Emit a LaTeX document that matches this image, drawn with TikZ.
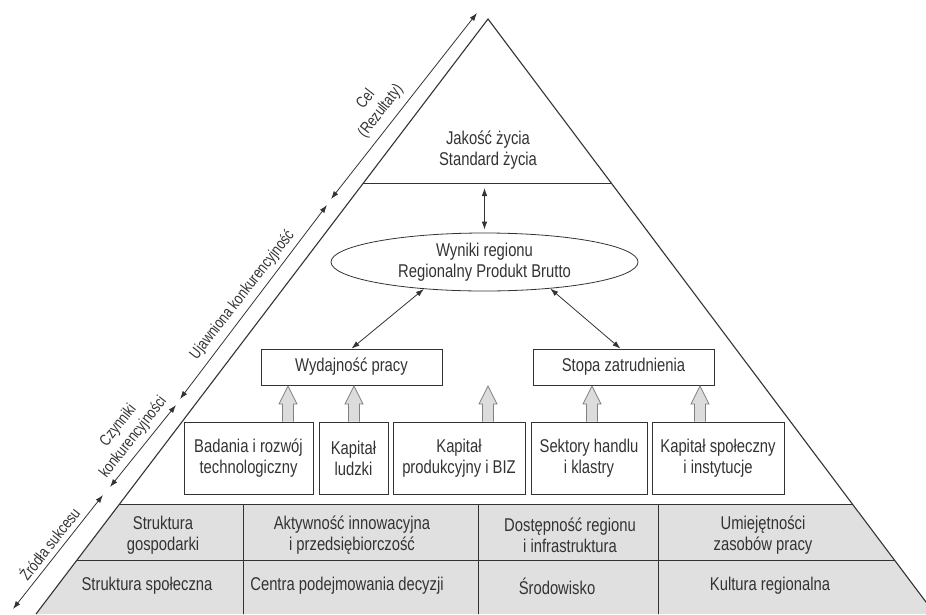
\documentclass[tikz,border=0pt]{standalone}
\usepackage{fontspec}
\setmainfont{Liberation Sans}[FakeStretch=0.8]
\usetikzlibrary{arrows.meta,shapes.geometric}

\definecolor{linegray}{HTML}{333333}
\definecolor{cellgray}{HTML}{E0E0E0}
\definecolor{arrowgray}{HTML}{DCDCDC}

\tikzset{
  box/.style={draw=linegray,line width=0.8pt,align=center,inner sep=0pt},
  cell/.style={align=center,inner sep=0pt},
  sidelabel/.style={align=center,rotate=52,font=\fontsize{16}{19}\selectfont},
  blockarrow/.style={draw=gray,fill=arrowgray,line width=0.7pt},
}

\begin{document}
\begin{tikzpicture}[x=1pt,y=-1pt,>={Latex[length=8pt,width=5.5pt]},
  every node/.style={font=\fontsize{18.5}{21}\selectfont,text=linegray}]
\useasboundingbox (0,0) rectangle (926,614);

% pyramid with grey base
\begin{scope}
  \clip (0,0) rectangle (926,614);
  \begin{scope}
    \clip (36,614) -- (488,19) -- (935,614) -- cycle;
    \fill[cellgray] (0,504) rectangle (940,620);
    \draw[linegray,line width=0.8pt] (0,183) -- (940,183);
    \draw[linegray,line width=0.8pt] (0,504) -- (940,504);
    \draw[linegray,line width=0.8pt] (0,560) -- (940,560);
    \foreach \x in {243,478,658}
      \draw[linegray,line width=0.8pt] (\x,504) -- (\x,620);
  \end{scope}
  \draw[linegray,line width=1.1pt] (36,614) -- (488,19) -- (935,614);
\end{scope}

% top
\node[align=center] (jakosc) at (488,150) {Jakość życia\\Standard życia};
\node[ellipse,draw=linegray,line width=0.8pt,inner sep=0pt,minimum width=307pt,minimum height=58pt,align=center] (wyniki) at (484.5,262) {Wyniki regionu\\Regionalny Produkt Brutto};
\coordinate (lvl) at (484.5,183);

% middle boxes
\node[box,minimum width=181pt,minimum height=36pt] (wyd) at (351.5,367) {Wydajność pracy};
\node[box,minimum width=181pt,minimum height=36pt] (stopa) at (623.5,367) {Stopa zatrudnienia};

% factor boxes
\node[box,minimum width=129pt,minimum height=72pt] (badania) at (248.5,458) {Badania i rozwój\\technologiczny};
\node[box,minimum width=69pt,minimum height=72pt] (ludzki) at (353.5,458) {Kapitał\\ludzki};
\node[box,minimum width=132pt,minimum height=72pt] (biz) at (459,458) {Kapitał\\produkcyjny i BIZ};
\node[box,minimum width=116pt,minimum height=72pt] (sektory) at (589,458) {Sektory handlu\\i klastry};
\node[box,minimum width=132pt,minimum height=72pt] (spoleczny) at (718,458) {Kapitał społeczny\\i instytucje};

\foreach \x in {288,354,488,592,700}
  \draw[blockarrow] (\x-5.5,421.5) -- (\x-5.5,404) -- (\x-9,404) -- (\x,386)
    -- (\x+9,404) -- (\x+5.5,404) -- (\x+5.5,421.5);

% connectors
\draw[<->,linegray,line width=0.8pt,shorten <=5pt,shorten >=3pt] (lvl) -- (wyniki);
\draw[<->,linegray,line width=0.8pt] (wyniki.204) -- (wyd.north);
\draw[<->,linegray,line width=0.8pt] (wyniki.338) -- ([xshift=-3pt]stopa.north);

% base cells
\node[cell] (c11) at (163,535) {Struktura\\gospodarki};
\node[cell] (c12) at (352,535) {Aktywność innowacyjna\\i przedsiębiorczość};
\node[cell] (c13) at (570,535) {Dostępność regionu\\i infrastruktura};
\node[cell] (c14) at (763,535) {Umiejętności\\zasobów pracy};
\node[cell] (c21) at (147,586) {Struktura społeczna};
\node[cell] (c22) at (347,586) {Centra podejmowania decyzji};
\node[cell] (c23) at (557,586) {Środowisko};
\node[cell] (c24) at (770,586) {Kultura regionalna};

% side scale
\coordinate (s1) at (477,13);
\coordinate (s2) at (331,199);
\coordinate (s3) at (327,205);
\coordinate (s4) at (180,399);
\coordinate (s5) at (176,405);
\coordinate (s6) at (110,487);
\coordinate (s7) at (103,495);
\coordinate (s8) at (13,609);
\draw[<->,linegray,line width=0.8pt] (s2) -- (s1);
\draw[<->,linegray,line width=0.8pt] (s4) -- (s3);
\draw[<->,linegray,line width=0.8pt] (s6) -- (s5);
\draw[<->,linegray,line width=0.8pt] (s8) -- (s7);

\node[sidelabel] (cel) at (373.5,105.5) {Cel\\(Rezultaty)};
\node[sidelabel] (ujawniona) at (242.5,295) {Ujawniona konkurencyjność};
\node[sidelabel] (czynniki) at (126,431.5) {Czynniki\\konkurencyjności};
\node[sidelabel] (zrodla) at (49,543.5) {Źródła sukcesu};

\end{tikzpicture}
\end{document}
